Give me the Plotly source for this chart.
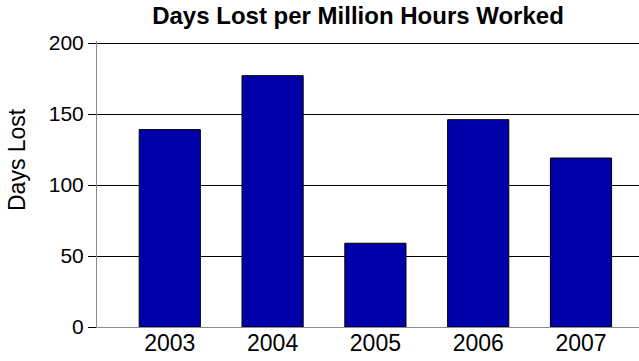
import plotly.graph_objects as go

# Days lost per million hours worked, by year
years = ["2003", "2004", "2005", "2006", "2007"]
days_lost = [139, 177, 59, 146, 119]

y_ticks = [0, 50, 100, 150, 200]
y_max = 200

FONT = "Liberation Sans, Arial, Helvetica, sans-serif"

# plot box: value 0 at y=327px, value 200 at y=43px
top_px, bottom_px = 41, 327
plot_h = bottom_px - top_px
px_per_unit = (327 - 43) / y_max
y_top = plot_h / px_per_unit

fig = go.Figure(
    go.Bar(
        x=years,
        y=days_lost,
        marker=dict(color="rgb(0,0,170)", line=dict(color="black", width=1)),
        hoverinfo="x+y",
    )
)

fig.update_layout(
    width=639,
    height=361,
    margin=dict(l=97, r=0, t=top_px, b=361 - bottom_px),
    paper_bgcolor="white",
    plot_bgcolor="white",
    bargap=0.405,
    showlegend=False,
    font=dict(family=FONT, color="black"),
    title=dict(
        text="<b>Days Lost per Million Hours Worked</b>",
        font=dict(family=FONT, size=24, color="black"),
        xref="container",
        x=358 / 639,
        xanchor="center",
        yref="container",
        y=1 - 16 / 361,
        yanchor="middle",
    ),
    annotations=[
        dict(
            text="Days Lost",
            textangle=-90,
            xref="paper",
            yref="paper",
            x=-80 / 542,
            y=(bottom_px - 160) / plot_h,
            xanchor="center",
            yanchor="middle",
            showarrow=False,
            font=dict(family=FONT, size=23, color="black"),
        )
    ],
)

fig.update_xaxes(
    type="category",
    range=[-0.708, 4.564],
    showgrid=False,
    showline=True,
    linecolor="#8c8c8c",
    linewidth=1,
    ticks="",
    ticklabelstandoff=-5,
    tickfont=dict(family=FONT, size=23, color="black"),
)

fig.update_yaxes(
    range=[0, y_top],
    tickvals=y_ticks,
    showgrid=True,
    gridcolor="black",
    gridwidth=1,
    zeroline=False,
    showline=True,
    linecolor="#8c8c8c",
    linewidth=1,
    ticks="outside",
    ticklen=8,
    tickcolor="black",
    tickfont=dict(family=FONT, size=21, color="black"),
)

fig.write_html("out.html")
